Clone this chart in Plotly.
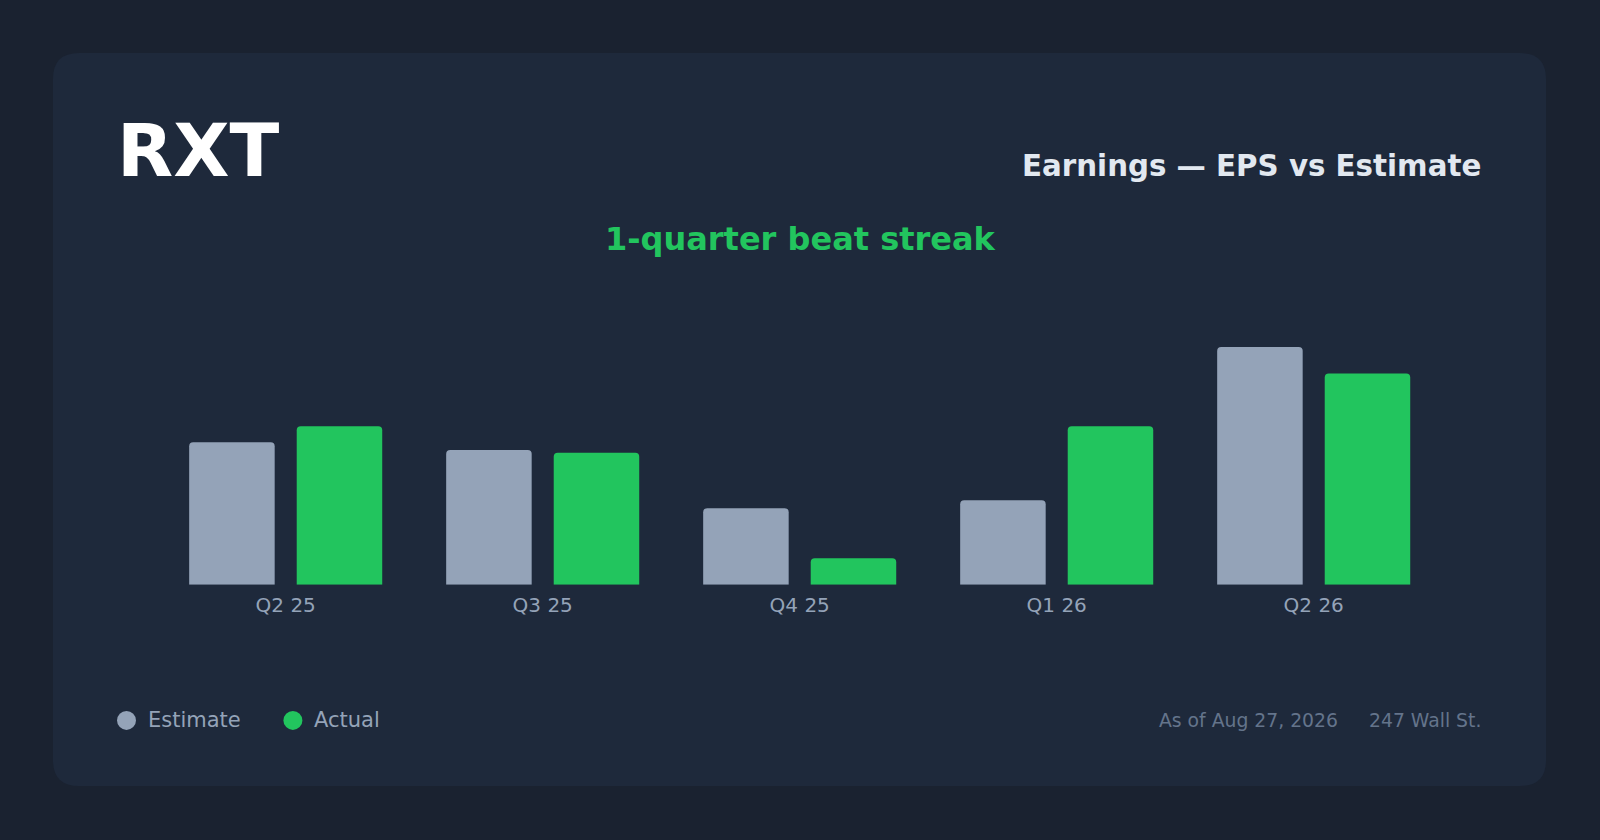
import plotly.graph_objects as go

# EPS data
quarters = ['Q2 25', 'Q3 25', 'Q4 25', 'Q1 26', 'Q2 26']
eps_estimate = [0.54, 0.51, 0.29, 0.32, 0.90]
eps_actual = [0.60, 0.50, 0.10, 0.60, 0.80]

W, H = 1600, 840
BG = '#1a2230'
CARD = '#1e293b'
GREY = '#94a3b8'
GREEN = '#22c55e'
FONT = 'DejaVu Sans'


def px(x):
    return x / W


def py(y):
    return 1 - y / H


def rounded_rect(x0, y0, x1, y1, r):
    # path in paper coords, built from pixel positions
    return (f'M {px(x0 + r)} {py(y0)} L {px(x1 - r)} {py(y0)} '
            f'Q {px(x1)} {py(y0)} {px(x1)} {py(y0 + r)} '
            f'L {px(x1)} {py(y1 - r)} Q {px(x1)} {py(y1)} {px(x1 - r)} {py(y1)} '
            f'L {px(x0 + r)} {py(y1)} Q {px(x0)} {py(y1)} {px(x0)} {py(y1 - r)} '
            f'L {px(x0)} {py(y0 + r)} Q {px(x0)} {py(y0)} {px(x0 + r)} {py(y0)} Z')


fig = go.Figure(data=[
    go.Bar(name='Estimate', x=quarters, y=eps_estimate,
           marker=dict(color=GREY, cornerradius=4, line_width=0)),
    go.Bar(name='Actual', x=quarters, y=eps_actual,
           marker=dict(color=GREEN, cornerradius=4, line_width=0)),
])

fig.update_layout(
    width=W, height=H,
    margin=dict(l=0, r=0, t=0, b=0),
    paper_bgcolor=BG, plot_bgcolor='rgba(0,0,0,0)',
    font=dict(family=FONT, color=GREY),
    barmode='group', bargap=0.163, bargroupgap=0.205,
    showlegend=False,
    xaxis=dict(domain=[px(157.2), px(1442.2)], showgrid=False, zeroline=False,
               showline=False, ticks='', tickfont=dict(size=20, color=GREY),
               ticklabelstandoff=6, fixedrange=True),
    yaxis=dict(domain=[py(584.7), py(320.7)], range=[0, 1.0], visible=False,
               fixedrange=True),
    shapes=[
        dict(type='path', xref='paper', yref='paper', layer='below',
             path=rounded_rect(53, 53, 1546, 786, 26),
             fillcolor=CARD, line_width=0),
        dict(type='circle', xref='paper', yref='paper',
             x0=px(126.5 - 9.5), x1=px(126.5 + 9.5), y0=py(720.4 + 9.5), y1=py(720.4 - 9.5),
             fillcolor=GREY, line_width=0),
        dict(type='circle', xref='paper', yref='paper',
             x0=px(292.9 - 9.5), x1=px(292.9 + 9.5), y0=py(720.4 + 9.5), y1=py(720.4 - 9.5),
             fillcolor=GREEN, line_width=0),
    ],
)

notes = [
    ('<b>RXT</b>', 115, 150, 'left', 73, '#ffffff'),
    ('<b>Earnings — EPS vs Estimate</b>', 1483, 166, 'right', 29.3, '#e2e8f0'),
    ('<b>1-quarter beat streak</b>', 800, 239, 'center', 32, GREEN),
    ('Estimate', 146, 720.4, 'left', 21, GREY),
    ('Actual', 312, 720.4, 'left', 21, GREY),
    ('As of Aug 27, 2026', 1340, 720.4, 'right', 18.8, '#64748b'),
    ('247 Wall St.', 1483, 720.4, 'right', 18.8, '#64748b'),
]
for text, x, y, anchor, size, color in notes:
    fig.add_annotation(text=text, x=px(x), y=py(y), xref='paper', yref='paper',
                       xanchor=anchor, yanchor='middle', showarrow=False,
                       font=dict(size=size, color=color, family=FONT))

# drop the default page margin so the figure fills the window
fig.write_html('out.html', config={'displayModeBar': False},
               post_script="document.body.style.margin='0';"
                           "document.body.style.background='" + BG + "';")
